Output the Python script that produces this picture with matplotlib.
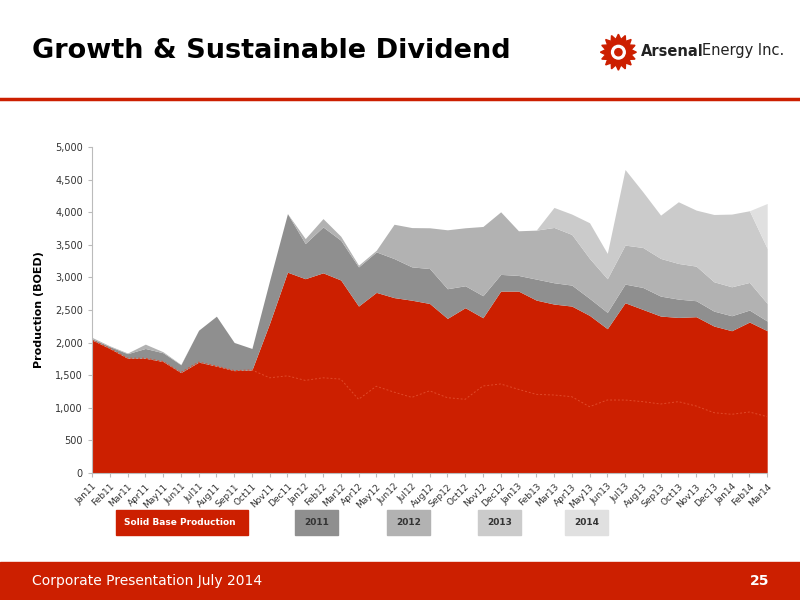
import matplotlib
matplotlib.use("Agg")
import matplotlib.pyplot as plt
import numpy as np
from matplotlib.patches import Rectangle

months = ["Jan11","Feb11","Mar11","Apr11","May11","Jun11","Jul11","Aug11","Sep11","Oct11","Nov11","Dec11",
          "Jan12","Feb12","Mar12","Apr12","May12","Jun12","Jul12","Aug12","Sep12","Oct12","Nov12","Dec12",
          "Jan13","Feb13","Mar13","Apr13","May13","Jun13","Jul13","Aug13","Sep13","Oct13","Nov13","Dec13",
          "Jan14","Feb14","Mar14"]
# cumulative tops of each layer (BOED)
base_line = [2040,1910,1760,1760,1710,1540,1700,1640,1570,1580,1460,1490,1420,1460,1440,1130,1330,1240,1160,1260,
             1155,1130,1334,1365,1283,1206,1196,1170,1017,1119,1119,1094,1058,1094,1027,925,900,935,864]
solid_base = [2040,1910,1760,1760,1710,1540,1700,1640,1570,1580,2300,3080,2980,3070,2960,2560,2770,2690,2650,2600,
              2371,2535,2381,2790,2790,2652,2591,2560,2417,2213,2611,2509,2407,2386,2397,2254,2182,2315,2182]
top_2011 = [2060,1940,1830,1910,1844,1660,2190,2405,2002,1910,2957,3978,3519,3774,3570,3161,3391,3289,3161,3136,
            2826,2872,2719,3046,3030,2974,2918,2882,2678,2463,2897,2846,2713,2667,2642,2483,2412,2499,2330]
top_2012 = [2080,1950,1840,1976,1859,1665,2190,2405,2002,1910,2957,3978,3595,3902,3631,3187,3417,3815,3764,3761,
            3730,3761,3781,4006,3715,3725,3766,3659,3291,2979,3495,3459,3291,3214,3173,2933,2856,2923,2601]
top_2013 = top_2012[:26] + [4073,3971,3838,3368,4655,4313,3955,4160,4032,3965,3971,4022,3444]
top_2014 = top_2013[:38] + [4134]

RED = "#cc1f00"
C11, C12, C13, C14 = "#8f8f8f", "#b2b2b2", "#cbcbcb", "#e0e0e0"

fig = plt.figure(figsize=(8, 6), dpi=100)
fig.patch.set_facecolor("white")
fig.text(0.04, 0.915, "Growth & Sustainable Dividend", fontsize=19.5, fontweight="bold", va="center")
# logo
th = np.linspace(0, 2*np.pi, 33)
r = np.where(np.arange(33) % 2 == 0, 1.0, 0.72)
lax = fig.add_axes([0.748, 0.88, 0.05, 0.066]); lax.axis("off"); lax.set_aspect("equal")
lax.fill(r*np.cos(th), r*np.sin(th), color=RED)
lax.add_patch(plt.Circle((0, 0), 0.38, color="white")); lax.add_patch(plt.Circle((0, 0), 0.2, color=RED))
lax.set_xlim(-1.1, 1.1); lax.set_ylim(-1.1, 1.1)
fig.text(641/800, 0.915, "Arsenal", fontsize=10.5, fontweight="bold", va="center", color="#222222")
fig.text(702/800, 0.915, "Energy Inc.", fontsize=10.5, va="center", color="#222222")
fig.add_artist(plt.Line2D([0, 1], [0.835, 0.835], color=RED, lw=2.5))
fig.add_artist(Rectangle((0, 0), 1, 0.063, color=RED))
fig.text(0.04, 0.031, "Corporate Presentation July 2014", color="white", fontsize=10, va="center")
fig.text(0.962, 0.031, "25", color="white", fontsize=10, fontweight="bold", va="center", ha="right")

ax = fig.add_axes([0.115, 0.2117, 0.844, 0.5433])
x = np.arange(len(months))
z = np.zeros(len(x))
ax.fill_between(x, z, solid_base, color=RED, lw=0)
ax.fill_between(x, solid_base, top_2011, color=C11, lw=0)
ax.fill_between(x, top_2011, top_2012, color=C12, lw=0)
ax.fill_between(x, top_2012, top_2013, color=C13, lw=0)
ax.fill_between(x, top_2013, top_2014, color=C14, lw=0)
ax.plot(x, base_line, color="#e04a2a", lw=0.7, ls=(0, (2, 2)))
ax.set_xlim(0, len(x)-1); ax.set_ylim(0, 5000)
ax.set_yticks(range(0, 5001, 500))
ax.set_yticklabels([f"{v:,}" for v in range(0, 5001, 500)], fontsize=7, color="#333333")
ax.set_xticks(x)
ax.set_xticklabels(months, rotation=45, ha="right", rotation_mode="anchor", fontsize=6.5, color="#333333")
for s in ["top", "right"]:
    ax.spines[s].set_visible(False)
for s in ["left", "bottom"]:
    ax.spines[s].set_color("#bbbbbb")
ax.tick_params(colors="#bbbbbb", labelcolor="#333333", length=3)
ax.set_ylabel("Production (BOED)", fontsize=8, fontweight="bold", labelpad=8)

def box(x0, x1, color, text, tc):
    fig.add_artist(Rectangle((x0/800, 1-535/600), (x1-x0)/800, 25/600, color=color))
    fig.text((x0+x1)/1600 if tc != "white" else (x0+8)/800, 1-522.5/600, text, color=tc,
             fontsize=6.5, fontweight="bold", va="center", ha="center" if tc != "white" else "left")
box(116, 248, RED, "Solid Base Production", "white")
box(295, 338, C11, "2011", "#333333")
box(387, 430, C12, "2012", "#333333")
box(478, 521, C13, "2013", "#333333")
box(565, 608, C14, "2014", "#333333")

fig.savefig("out.png", dpi=100)
